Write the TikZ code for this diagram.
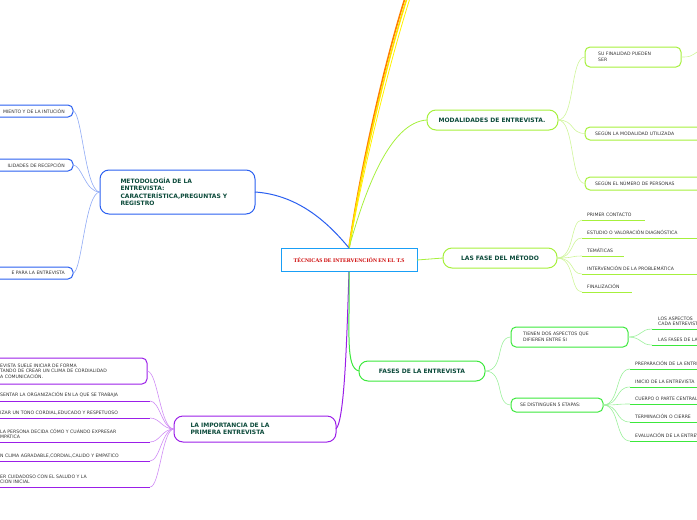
\documentclass[tikz,border=0pt]{standalone}
\usepackage{fontspec}
\setmainfont{DejaVu Sans}
\newfontfamily\serifb{Liberation Serif}
\definecolor{tg}{HTML}{0B4A3A}
\definecolor{bl}{HTML}{2A5FF0}
\definecolor{blL}{HTML}{8FAAF5}
\definecolor{pu}{HTML}{9B1FE8}
\definecolor{puL}{HTML}{D08CF5}
\definecolor{gr}{HTML}{3CE83C}
\definecolor{grL}{HTML}{9CF09C}
\definecolor{lg}{HTML}{A6F03C}
\definecolor{lgL}{HTML}{CFF59A}
\definecolor{txt}{HTML}{333333}
\tikzset{
 main/.style={draw=#1,line width=1pt,rounded corners=9pt,font=\bfseries\fontsize{6}{7.5}\selectfont,text=tg,align=left,inner sep=0pt},
 leaf/.style={font=\fontsize{4.6}{5.6}\selectfont,text=txt,align=left,inner sep=0pt},
 lbox/.style={draw=#1,line width=1pt,rounded corners=5pt},
}
\begin{document}
\begin{tikzpicture}[x=1pt,y=-1pt]
\useasboundingbox (0,0) rectangle (697,520);
\clip (0,0) rectangle (697,520);
% root
\node[draw=bl!60!cyan,line width=0.6pt,minimum width=136pt,minimum height=23pt,inner sep=0pt,font=\serifb\bfseries\fontsize{5.6}{6.5}\selectfont,text=red!80!black] (root) at (349,260) {TÉCNICAS DE INTERVENCIÓN EN EL T.S};
\coordinate (rt) at (349,248);
\coordinate (rb) at (349,272);
% yellow/orange going off top
\coordinate (y1) at (406,-5);
\coordinate (y2) at (408,-5);
\coordinate (y3) at (411,-5);
\draw[orange,line width=1.6pt] (rt) .. controls (360,170) and (385,60) .. (y1);
\draw[yellow!85!orange,line width=1.6pt] (rt) .. controls (361,170) and (387,60) .. (y2);
\draw[yellow,line width=0.8pt] (rt) .. controls (363,170) and (390,60) .. (y3);

% ---------- blue branch
\draw[main=bl] (100,170) rectangle (255,214);
\node[main=bl,draw=none,anchor=west] (met) at (120,192) {METODOLOGÍA DE LA\\ENTREVISTA:\\CARACTERÍSTICA,PREGUNTAS Y\\REGISTRO};
\coordinate (metE) at (255,192);
\coordinate (metW) at (100,192);
\draw[bl,line width=1pt] (metE) .. controls (300,195) and (330,225) .. (rt);
\foreach \y/\t/\n in {111/MIENTO Y DE LA INTUCIÓN/b1,165/ILIDADES DE RECEPCIÓN/b2,273/E PARA LA ENTREVISTA/b3}{
 \draw[lbox=bl] (-20,\y-6) rectangle (73,\y+6);
 \node[leaf,anchor=east] (\n) at (65,\y) {\t};
 \draw[blL,line width=0.6pt] (metW) .. controls (85,192) and (82,\y) .. (73,\y);
}
% ---------- purple branch
\draw[main=pu] (174,416) rectangle (336,442);
\node[main=pu,draw=none,anchor=west] (imp) at (190,429) {LA IMPORTANCIA DE LA\\PRIMERA ENTREVISTA};
\coordinate (impE) at (336,429);
\coordinate (impW) at (174,429);
\draw[pu,line width=1pt] (rb) .. controls (347,330) and (345,420) .. (impE);
\draw[lbox=pu] (-20,358) rectangle (147,384);
\node[leaf,anchor=west] (p0) at (0,371) {EVISTA SUELE INICIAR DE FORMA\\TANDO DE CREAR UN CLIMA DE CORDIALIDAD\\A COMUNICACIÓN.};
\draw[puL,line width=0.6pt] (impW) .. controls (160,429) and (158,371) .. (147,371);
\foreach \y/\t/\n in {401/{SENTAR LA ORGANIZACIÓN EN LA QUE SE TRABAJA}/p1,418/{IZAR UN TONO CORDIAL,EDUCADO Y RESPETUOSO}/p2,461/{N CLIMA AGRADABLE,CORDIAL,CALIDO Y EMPATICO}/p4}{
 \node[leaf,anchor=south west] (\n) at (0,\y-3) {\t};
 \draw[pu,line width=1pt] (0,\y) -- (150,\y);
 \draw[puL,line width=0.6pt] (impW) .. controls (162,429) and (160,\y) .. (150,\y);
}
\node[leaf,anchor=south west] (p3) at (0,439) {LA PERSONA DECIDA CÓMO Y CUÁNDO EXPRESAR\\MPÁTICA};
\draw[pu,line width=1pt] (0,442) -- (150,442);
\draw[puL,line width=0.6pt] (impW) .. controls (162,429) and (160,442) .. (150,442);
\node[leaf,anchor=south west] (p5) at (0,484) {ER CUIDADOSO CON EL SALUDO Y LA\\CION INICIAL};
\draw[pu,line width=1pt] (0,487) -- (150,487);
\draw[puL,line width=0.6pt] (impW) .. controls (162,429) and (160,487) .. (150,487);

% ---------- light green: modalidades
\draw[main=lg] (427,110) rectangle (558,130);
\node[main=lg,draw=none] (mod) at (492,120) {MODALIDADES DE ENTREVISTA.};
\coordinate (modW) at (427,120);
\coordinate (modE) at (558,120);
\draw[lg,line width=0.8pt] (rt) .. controls (365,190) and (390,122) .. (modW);
\draw[lbox=lg] (585,47) rectangle (681,67);
\node[leaf,anchor=west] (m1) at (598,57) {SU FINALIDAD PUEDEN\\SER};
\draw[lgL,line width=0.6pt] (681,57) .. controls (690,57) and (690,57) .. (700,50);
\draw[lbox=lg] (585,127) rectangle (710,140);
\node[leaf,anchor=west] (m2) at (595,133.5) {SEGÚN LA MODALIDAD UTILIZADA};
\draw[lbox=lg] (585,177) rectangle (710,190);
\node[leaf,anchor=west] (m3) at (595,183.5) {SEGÚN EL NÚMERO DE PERSONAS};
\foreach \y in {57,133.5,183.5}{
 \draw[lgL,line width=0.6pt] (modE) .. controls (575,120) and (570,\y) .. (585,\y);
}
% ---------- green: fase del metodo
\draw[main=lg] (443,248) rectangle (557,268);
\node[main=lg,draw=none] (fm) at (500,258) {LAS FASE DEL MÉTODO};
\coordinate (fmE) at (557,258);
\draw[lg,line width=0.8pt] (417,260) -- (443,258);
\foreach \y/\t/\n/\w in {214/PRIMER CONTACTO/f1/645,232/ESTUDIO O VALORACIÓN DIAGNÓSTICA/f2/700,250/TEMÁTICAS/f3/624,268/INTERVENCIÓN DE LA PROBLEMÁTICA/f4/700,286/FINALIZACIÓN/f5/632}{
 \node[leaf,anchor=south west] (\n) at (587,\y+3) {\t};
 \draw[lg,line width=0.8pt] (582,\y+6) -- (\w,\y+6);
 \draw[lgL,line width=0.6pt] (fmE) .. controls (575,258) and (570,\y+6) .. (582,\y+6);
}
% ---------- green: fases de la entrevista
\draw[main=gr] (359,361) rectangle (485,381);
\node[main=gr,draw=none] (fe) at (422,371) {FASES DE LA ENTREVISTA};
\coordinate (feW) at (359,371);
\coordinate (feE) at (485,371);
\draw[gr,line width=1pt] (rb) .. controls (350,330) and (345,368) .. (feW);
\draw[lbox=gr] (511,327) rectangle (628,347);
\node[leaf,anchor=west] (t1) at (523,337) {TIENEN DOS ASPECTOS QUE\\DIFIEREN ENTRE SI};
\draw[lbox=gr] (511,398) rectangle (603,412);
\node[leaf,anchor=west] (t2) at (520,405) {SE DISTINGUEN 5 ETAPAS:};
\draw[grL,line width=0.6pt] (feE) .. controls (505,371) and (495,337) .. (511,337);
\draw[grL,line width=0.6pt] (feE) .. controls (505,371) and (495,405) .. (511,405);
\node[leaf,anchor=south west] (a1) at (658,326) {LOS ASPECTOS\\CADA ENTREVISTA};
\draw[gr,line width=0.8pt] (652,329) -- (700,329);
\node[leaf,anchor=south west] (a2) at (658,342) {LAS FASES DE LA ENTREVISTA};
\draw[gr,line width=0.8pt] (652,345) -- (700,345);
\foreach \y in {329,345}{\draw[grL,line width=0.6pt] (628,337) .. controls (642,337) and (640,\y) .. (652,\y);}
\foreach \y/\t/\n in {363/PREPARACIÓN DE LA ENTREVISTA/s1,381/INICIO DE LA ENTREVISTA/s2,398/CUERPO O PARTE CENTRAL/s3,416/TERMINACIÓN O CIERRE/s4,435/EVALUACIÓN DE LA ENTREVISTA/s5}{
 \node[leaf,anchor=south west] (\n) at (635,\y+3) {\t};
 \draw[gr,line width=0.8pt] (630,\y+6) -- (700,\y+6);
 \draw[grL,line width=0.6pt] (603,405) .. controls (620,405) and (615,\y+6) .. (630,\y+6);
}
\end{tikzpicture}
\end{document}
